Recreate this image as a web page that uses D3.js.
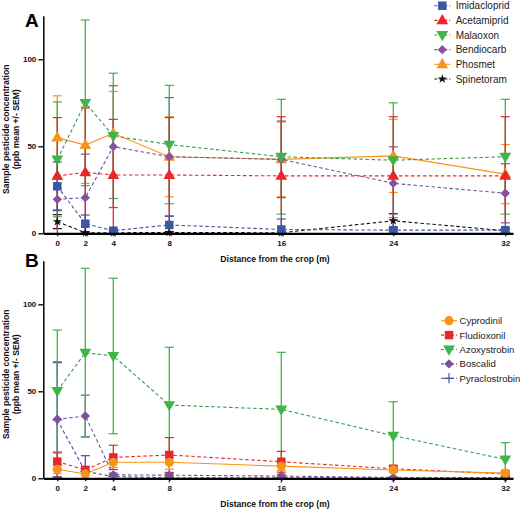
<!DOCTYPE html>
<html><head><meta charset="utf-8">
<script src="https://cdn.jsdelivr.net/npm/d3@7"></script>
<style>
html,body{margin:0;padding:0;background:#fff;}
svg{display:block;font-family:"Liberation Sans",Arial,sans-serif;}
</style></head>
<body><svg id="c" width="520" height="509"></svg>
<script>
// ---- data ----
const distances = [0, 2, 4, 8, 16, 24, 32];
const xTickLabels = ["0", "2", "4", "8", "16", "24", "32"];
const yTickValues = [0, 50, 100];

const namesA = ["Imidacloprid", "Acetamiprid", "Malaoxon", "Bendiocarb", "Phosmet", "Spinetoram"];
const imidacloprid = [27, 5.5, 1.5, 4.8, 2.2, 1.8, 1.8];
const imidaclopridSem = [14, 5, 1, 5, 6, 1, 1];
const acetamiprid = [33, 35, 33.5, 33.5, 33, 33, 33];
const acetamipridSem = [33.5, 37, 32, 33, 34, 34, 34];
const malaoxon = [42.5, 75, 56, 51, 44, 42, 44];
const malaoxonSem = [33, 47.6, 36, 34, 33, 33, 33];
const bendiocarb = [19.5, 20.5, 49.8, 44, 42.5, 28.7, 23];
const bendiocarbSem = [6, 25, 35, 34, 22, 21, 17];
const phosmet = [55, 50.7, 57.5, 44, 42.5, 44.5, 34];
const phosmetSem = [24, 22, 24, 23, 21.5, 21, 17];
const spinetoram = [6.7, 0.3, 0.3, 0.5, 0.3, 7.2, 1.5];
const spinetoramSem = [4, 0.5, 0.3, 0.5, 0.5, 4, 1];

const namesB = ["Cyprodinil", "Fludioxonil", "Azoxystrobin", "Boscalid", "Pyraclostrobin"];
const cyprodinil = [5.2, 2.5, 9.2, 9.2, 7, 4.8, 3];
const cyprodinilSem = [2.5, 1, 3, 4, 2.5, 1, 1];
const fludioxonil = [9.6, 4.8, 12, 13.4, 9.5, 5.5, 2.5];
const fludioxonilSem = [5, 2, 7, 10, 6, 1.5, 1];
const azoxystrobin = [50.2, 72.2, 70.3, 42.1, 39.6, 24.5, 10.9];
const azoxystrobinSem = [35, 48.5, 44.7, 33.2, 32.8, 19.5, 9.6];
const boscalid = [33.9, 35.8, 2, 1.8, 1.3, 0.5, 0.5];
const boscalidSem = [33, 12, 1, 1, 1, 0.3, 0.3];
const pyraclostrobin = [33.5, 4, 1, 0.3, 0.3, 0.3, 0.3];
const pyraclostrobinSem = [33, 9, 1, 0.3, 0.3, 0.3, 0.3];

// ---- styles ----
const C = {blue:"#3b56a5", red:"#e8262b", green:"#3db54a", purple:"#8a50a0", orange:"#f7941d", black:"#111111", boscalid:"#7b4f9e", pyra:"#4a4f9e"};

const seriesA = [
  {name:namesA[0], v:imidacloprid, s:imidaclopridSem, color:C.blue, line:"#3b56a5", marker:"square", dash:true},
  {name:namesA[1], v:acetamiprid, s:acetamipridSem, color:C.red, line:C.red, marker:"triUp", dash:true},
  {name:namesA[2], v:malaoxon, s:malaoxonSem, color:C.green, line:"#3a9a48", marker:"triDown", dash:true},
  {name:namesA[3], v:bendiocarb, s:bendiocarbSem, color:C.purple, line:"#6a55a0", marker:"diamond", dash:true},
  {name:namesA[4], v:phosmet, s:phosmetSem, color:C.orange, line:C.orange, marker:"triUp", dash:false},
  {name:namesA[5], v:spinetoram, s:spinetoramSem, color:C.black, line:C.black, marker:"star", dash:true}
];
const seriesB = [
  {name:namesB[0], v:cyprodinil, s:cyprodinilSem, color:C.orange, line:C.orange, marker:"circle", dash:false},
  {name:namesB[1], v:fludioxonil, s:fludioxonilSem, color:C.red, line:C.red, marker:"square", dash:true},
  {name:namesB[2], v:azoxystrobin, s:azoxystrobinSem, color:C.green, line:"#3a9a48", marker:"triDown", dash:true},
  {name:namesB[3], v:boscalid, s:boscalidSem, color:C.boscalid, line:C.boscalid, marker:"diamond", dash:true},
  {name:namesB[4], v:pyraclostrobin, s:pyraclostrobinSem, color:C.pyra, line:C.pyra, marker:"plus", dash:true}
];

const svg = d3.select("#c");
const x = d3.scaleLinear().domain([-1, 32.55]).range([43.3, 513]);

function drawMarker(g, type, cx, cy, color, scale) {
  scale = scale || 1;
  const t = `translate(${cx},${cy})`;
  if (type === "square") {
    g.append("path").attr("d", d3.symbol(d3.symbolSquare, 72*scale)()).attr("transform", t).attr("fill", color);
  } else if (type === "triUp") {
    g.append("path").attr("d", d3.symbol(d3.symbolTriangle, 60*scale)()).attr("transform", t + " translate(0,0.5)").attr("fill", color);
  } else if (type === "triDown") {
    g.append("path").attr("d", d3.symbol(d3.symbolTriangle, 60*scale)()).attr("transform", t + " rotate(180) translate(0,0.5)").attr("fill", color);
  } else if (type === "diamond") {
    g.append("path").attr("d", d3.symbol(d3.symbolSquare, 44*scale)()).attr("transform", t + " rotate(45)").attr("fill", color);
  } else if (type === "circle") {
    g.append("path").attr("d", d3.symbol(d3.symbolCircle, 66*scale)()).attr("transform", t).attr("fill", color);
  } else if (type === "star") {
    g.append("path").attr("d", d3.symbol(d3.symbolStar, 26*scale)()).attr("transform", t).attr("fill", color);
  } else if (type === "plus") {
    g.append("path").attr("d", "M-5,0H5M0,-5V5").attr("transform", t).attr("stroke", color).attr("stroke-width", 1.2).attr("fill", "none");
  }
}

function panel(series, base, letter, letterY, legendX, legendTextX, legendY0, legendStep, legendFont) {
  const y = d3.scaleLinear().domain([0, 125]).range([base, base - 125*1.74]);
  const g = svg.append("g");

  // axes
  const yAxis = d3.axisLeft(y).tickValues(yTickValues).tickSize(5).tickSizeOuter(0).tickPadding(2).tickFormat(d3.format("d"));
  const ya = g.append("g").attr("transform", `translate(${x(-1)},0)`).call(yAxis);
  ya.select(".domain").attr("stroke", "#000").attr("stroke-width", 1.5);
  ya.selectAll(".tick line").attr("stroke-width", 1.3);
  ya.selectAll("text").attr("font-size", 8).attr("font-weight", "bold").attr("fill", "#111");

  // y title
  const cy = base - 104;
  g.append("text").attr("transform", `translate(9,${cy}) rotate(-90)`).attr("text-anchor", "middle")
    .attr("font-size", 8.6).attr("font-weight", "bold").attr("fill", "#111").text("Sample pesticide concentration");
  g.append("text").attr("transform", `translate(18.5,${cy}) rotate(-90)`).attr("text-anchor", "middle")
    .attr("font-size", 8.6).attr("font-weight", "bold").attr("fill", "#111").text("(ppb mean +/- SEM)");

  // panel letter
  g.append("text").attr("x", 25).attr("y", letterY).attr("font-size", 19).attr("font-weight", "bold").attr("fill", "#000").text(letter);

  // data layers (last series at bottom, first on top)
  const order = series.slice().reverse();
  const eg = g.append("g"), lg = g.append("g"), mg = g.append("g");
  order.forEach(sr => {
    const grp = eg.append("g");
    distances.forEach((d, i) => {
      const v = sr.v[i], s = sr.s[i];
      const hi = v + s, lo = Math.max(0, v - s);
      grp.append("line").attr("x1", x(d)).attr("x2", x(d)).attr("y1", y(hi)).attr("y2", y(lo))
        .attr("stroke", sr.color).attr("stroke-width", 1.3);
      grp.append("line").attr("x1", x(d) - 4.5).attr("x2", x(d) + 4.5).attr("y1", y(hi)).attr("y2", y(hi))
        .attr("stroke", sr.color).attr("stroke-width", 1.2);
      if (v - s > 0) {
        grp.append("line").attr("x1", x(d) - 4.5).attr("x2", x(d) + 4.5).attr("y1", y(lo)).attr("y2", y(lo))
          .attr("stroke", sr.color).attr("stroke-width", 1.2);
      }
    });
  });
  order.forEach(sr => {
    const line = d3.line().x((d, i) => x(d)).y((d, i) => y(sr.v[i]));
    lg.append("path").attr("d", line(distances)).attr("fill", "none").attr("stroke", sr.line)
      .attr("stroke-width", 1.1).attr("stroke-dasharray", sr.dash ? "3.5,2.5" : null);
  });
  order.forEach(sr => {
    distances.forEach((d, i) => drawMarker(mg, sr.marker, x(d), y(sr.v[i]), sr.color));
  });

  // x axis
  const xAxis = d3.axisBottom(x).tickValues(distances).tickSize(3).tickSizeOuter(0).tickPadding(4.5)
    .tickFormat((d, i) => xTickLabels[i]);
  const xa = g.append("g").attr("transform", `translate(0,${base})`).call(xAxis);
  xa.select(".domain").attr("stroke", "#000").attr("stroke-width", 2.2);
  xa.selectAll(".tick line").attr("stroke-width", 1.2);
  xa.selectAll("text").attr("font-size", 8).attr("font-weight", "bold").attr("fill", "#111");

  // legend
  series.forEach((sr, i) => {
    const ly = legendY0 + i * legendStep;
    const lgG = g.append("g");
    lgG.append("line").attr("x1", legendX - 8).attr("x2", legendX + 8).attr("y1", ly).attr("y2", ly)
      .attr("stroke", sr.line).attr("stroke-width", 1.1).attr("stroke-dasharray", sr.dash ? "3,2" : null);
    drawMarker(lgG, sr.marker, legendX, ly, sr.color);
    lgG.append("text").attr("x", legendTextX).attr("y", ly).attr("dy", "0.36em").attr("font-size", legendFont)
      .attr("fill", "#222").text(sr.name);
  });
}

panel(seriesA, 233.3, "A", 27, 442.3, 455.7, 5.7, 14.65, 10);
panel(seriesB, 478.3, "B", 267, 449, 459.5, 320.7, 14.4, 9.6);

// x axis titles
[258.5, 503.5].forEach(yy => {
  svg.append("text").attr("x", 275).attr("y", yy).attr("dy", "0.35em").attr("text-anchor", "middle")
    .attr("font-size", 8.6).attr("font-weight", "bold").attr("fill", "#111").text("Distance from the crop (m)");
});
</script>
</body></html>
